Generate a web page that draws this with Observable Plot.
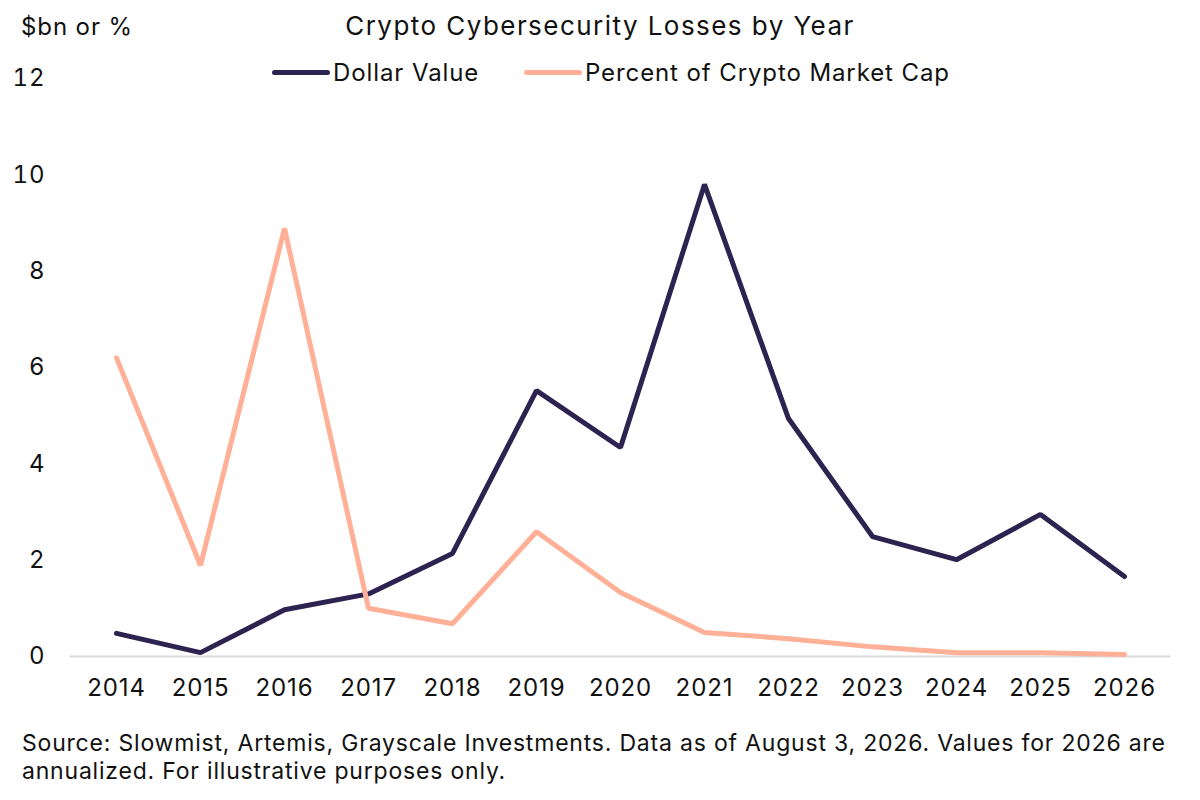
<!DOCTYPE html>
<html>
<head>
<meta charset="utf-8">
<script src="https://cdn.jsdelivr.net/npm/d3@7"></script>
<script src="https://cdn.jsdelivr.net/npm/@observablehq/plot@0.6"></script>
<style>
  html, body { margin: 0; padding: 0; background: #fff; }
  body { width: 1200px; height: 800px; position: relative; font-family: Inter, "Noto Sans", sans-serif; color: #111; overflow: hidden; }
  #chart { position: absolute; left: 0; top: 0; }
  .abs { position: absolute; white-space: nowrap; }
  #ylabel { left: 21px; top: 12px; font-size: 24px; letter-spacing: 0.9px; }
  #title { left: 0; width: 1200px; text-align: center; top: 10px; font-size: 26px; letter-spacing: 1.45px; }
  .item { position: absolute; top: 58px; font-size: 24px; letter-spacing: 0.9px; display: flex; align-items: center; white-space: nowrap; }
  .sw { display: inline-block; width: 58px; height: 5px; border-radius: 3px; margin-right: 3px; }
  #caption { left: 22px; top: 729px; font-size: 23px; line-height: 28px; letter-spacing: 0.8px; }
  svg text { letter-spacing: 0.9px; }
</style>
</head>
<body>
<div id="chart"></div>
<div class="abs" id="ylabel">$bn or %</div>
<div class="abs" id="title">Crypto Cybersecurity Losses by Year</div>
<div id="legend"></div>
<div class="abs" id="caption">Source: Slowmist, Artemis, Grayscale Investments. Data as of August 3, 2026. Values for 2026 are<br>annualized. For illustrative purposes only.</div>
<script>
const years = ["2014","2015","2016","2017","2018","2019","2020","2021","2022","2023","2024","2025","2026"];
const dollarValue = [0.48, 0.08, 0.97, 1.30, 2.14, 5.52, 4.34, 9.80, 4.94, 2.49, 2.01, 2.95, 1.66];
const percentMarketCap = [6.20, 1.89, 8.89, 1.00, 0.68, 2.59, 1.33, 0.50, 0.37, 0.20, 0.08, 0.08, 0.04];
const seriesNames = ["Dollar Value", "Percent of Crypto Market Cap"];
const seriesColors = ["#2d2350", "#ffb096"];
const yTicks = [0, 2, 4, 6, 8, 10, 12];
const legendLeft = [272, 524];

const data = [];
years.forEach((y, i) => {
  data.push({year: y, value: dollarValue[i], series: seriesNames[0]});
  data.push({year: y, value: percentMarketCap[i], series: seriesNames[1]});
});

const plot = Plot.plot({
  width: 1200,
  height: 720,
  marginTop: 78,
  marginBottom: 64,
  marginLeft: 70,
  marginRight: 30,
  style: {fontFamily: "Inter, 'Noto Sans', sans-serif", fontSize: "24px", color: "#111", background: "transparent"},
  x: {type: "point", domain: years, padding: 0.5, label: null, tickSize: 0, tickPadding: 22},
  y: {domain: [0, 12], ticks: yTicks, label: null, tickSize: 0, tickPadding: 25},
  color: {domain: seriesNames, range: seriesColors},
  marks: [
    Plot.ruleY([0], {stroke: "#d9d9d9", strokeWidth: 2}),
    Plot.line(data, {x: "year", y: "value", z: "series", stroke: "series", strokeWidth: 5, strokeLinejoin: "miter", strokeLinecap: "round"})
  ]
});
document.getElementById("chart").appendChild(plot);

const legend = document.getElementById("legend");
seriesNames.forEach((n, i) => {
  const it = document.createElement("div");
  it.className = "item";
  it.style.left = legendLeft[i] + "px";
  const sw = document.createElement("span");
  sw.className = "sw";
  sw.style.background = seriesColors[i];
  it.appendChild(sw);
  const t = document.createElement("span");
  t.textContent = n;
  it.appendChild(t);
  legend.appendChild(it);
});
</script>
</body>
</html>
